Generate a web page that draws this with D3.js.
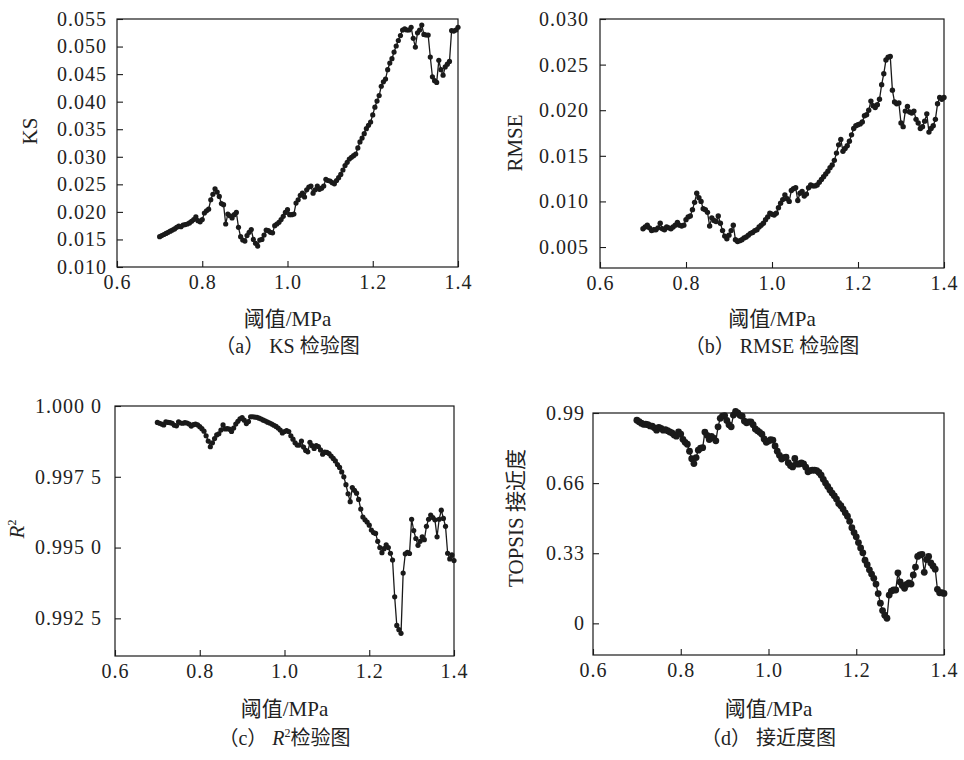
<!DOCTYPE html>
<html><head><meta charset="utf-8">
<script src="https://cdn.jsdelivr.net/npm/d3@7"></script>
<style>
body{margin:0;background:#fff;}
svg text{font-family:"Liberation Serif","Times New Roman",serif;fill:#222;}
</style></head>
<body>
<svg id="c" width="964" height="760"></svg>
<script>
// thresholds (MPa): 0.700 ... 1.400, step 0.005
const thresholds = d3.range(141).map(i => +(0.7 + i*0.005).toFixed(3));
const xTicks = [0.6, 0.8, 1.0, 1.2, 1.4];
const xTickLabels = ["0.6", "0.8", "1.0", "1.2", "1.4"];

const ksValues = [
0.0155,0.0157,0.0159,0.0161,0.0163,0.0165,0.0167,0.0169,0.0172,0.0174,
0.0173,0.0176,0.0177,0.0178,0.0180,0.0183,0.0186,0.0191,0.0184,0.0182,
0.0186,0.0198,0.0202,0.0205,0.0222,0.0232,0.0242,0.0236,0.0228,0.0215,
0.0213,0.0178,0.0196,0.0193,0.0189,0.0195,0.0199,0.0172,0.0155,0.0149,
0.0147,0.0157,0.0163,0.0168,0.0150,0.0143,0.0138,0.0149,0.0150,0.0158,
0.0167,0.0166,0.0163,0.0162,0.0175,0.0178,0.0181,0.0186,0.0192,0.0199,
0.0204,0.0195,0.0195,0.0196,0.0216,0.0222,0.0230,0.0234,0.0227,0.0240,
0.0245,0.0247,0.0234,0.0240,0.0247,0.0241,0.0243,0.0247,0.0259,0.0257,
0.0256,0.0253,0.0251,0.0257,0.0262,0.0268,0.0276,0.0284,0.0290,0.0296,
0.0299,0.0302,0.0305,0.0316,0.0327,0.0334,0.0342,0.0351,0.0357,0.0363,
0.0376,0.0390,0.0401,0.0411,0.0428,0.0436,0.0441,0.0458,0.0470,0.0478,
0.0490,0.0501,0.0511,0.0520,0.0530,0.0532,0.0530,0.0530,0.0535,0.0515,
0.0499,0.0525,0.0530,0.0539,0.0522,0.0521,0.0521,0.0481,0.0445,0.0438,
0.0435,0.0475,0.0458,0.0448,0.0463,0.0468,0.0473,0.0529,0.0528,0.0530,
0.0535];
const ksTicks = [0.010,0.015,0.020,0.025,0.030,0.035,0.040,0.045,0.050,0.055];
const ksTickLabels = ["0.010","0.015","0.020","0.025","0.030","0.035","0.040","0.045","0.050","0.055"];

const rmseValues = [
0.0070,0.0072,0.0074,0.0071,0.0068,0.0069,0.0069,0.0071,0.0076,0.0070,
0.0069,0.0072,0.0071,0.0070,0.0072,0.0074,0.0077,0.0074,0.0073,0.0074,
0.0080,0.0083,0.0084,0.0091,0.0099,0.0109,0.0104,0.0100,0.0092,0.0091,
0.0088,0.0073,0.0082,0.0079,0.0078,0.0084,0.0076,0.0068,0.0062,0.0059,
0.0063,0.0068,0.0074,0.0058,0.0056,0.0057,0.0058,0.0060,0.0061,0.0063,
0.0065,0.0066,0.0068,0.0069,0.0072,0.0074,0.0076,0.0080,0.0083,0.0087,
0.0086,0.0085,0.0087,0.0093,0.0098,0.0102,0.0107,0.0103,0.0100,0.0112,
0.0114,0.0115,0.0101,0.0109,0.0111,0.0106,0.0108,0.0115,0.0118,0.0117,
0.0117,0.0118,0.0121,0.0124,0.0127,0.0130,0.0133,0.0137,0.0140,0.0145,
0.0153,0.0162,0.0168,0.0155,0.0158,0.0161,0.0166,0.0173,0.0180,0.0183,
0.0184,0.0185,0.0187,0.0194,0.0195,0.0200,0.0210,0.0205,0.0203,0.0206,
0.0212,0.0228,0.0240,0.0255,0.0258,0.0259,0.0222,0.0209,0.0207,0.0208,
0.0186,0.0182,0.0199,0.0204,0.0198,0.0197,0.0199,0.0190,0.0186,0.0180,
0.0182,0.0188,0.0196,0.0176,0.0180,0.0183,0.0190,0.0207,0.0214,0.0212,
0.0214];
const rmseTicks = [0.005,0.010,0.015,0.020,0.025,0.030];
const rmseTickLabels = ["0.005","0.010","0.015","0.020","0.025","0.030"];

const r2Values = [
0.99942,0.99939,0.99936,0.99933,0.99944,0.99942,0.99941,0.99939,0.99932,0.99930,
0.99944,0.99940,0.99939,0.99941,0.99940,0.99936,0.99929,0.99934,0.99936,0.99933,
0.99927,0.99920,0.99911,0.99895,0.99876,0.99856,0.99870,0.99885,0.99898,0.99902,
0.99915,0.99933,0.99919,0.99920,0.99918,0.99910,0.99922,0.99936,0.99946,0.99955,
0.99959,0.99950,0.99938,0.99945,0.99962,0.99962,0.99961,0.99960,0.99957,0.99954,
0.99950,0.99947,0.99943,0.99940,0.99936,0.99932,0.99928,0.99922,0.99915,0.99905,
0.99910,0.99913,0.99910,0.99895,0.99883,0.99870,0.99862,0.99862,0.99876,0.99855,
0.99843,0.99838,0.99872,0.99860,0.99850,0.99860,0.99857,0.99845,0.99830,0.99837,
0.99836,0.99832,0.99823,0.99815,0.99806,0.99793,0.99783,0.99767,0.99750,0.99722,
0.99690,0.99662,0.99712,0.99702,0.99692,0.99670,0.99636,0.99608,0.99598,0.99590,
0.99579,0.99562,0.99553,0.99550,0.99522,0.99500,0.99482,0.99496,0.99510,0.99500,
0.99480,0.99456,0.99326,0.99225,0.99210,0.99197,0.99410,0.99478,0.99483,0.99479,
0.99600,0.99560,0.99532,0.99508,0.99522,0.99538,0.99528,0.99575,0.99600,0.99615,
0.99606,0.99598,0.99538,0.99600,0.99632,0.99603,0.99575,0.99480,0.99460,0.99474,
0.99454];
const r2Ticks = [0.9925,0.9950,0.9975,1.0000];
const r2TickLabels = ["0.992 5","0.995 0","0.997 5","1.000 0"];

const topsisValues = [
0.956,0.949,0.942,0.937,0.937,0.935,0.929,0.928,0.920,0.909,
0.922,0.918,0.909,0.912,0.907,0.901,0.896,0.887,0.881,0.901,
0.891,0.866,0.852,0.843,0.810,0.775,0.752,0.780,0.815,0.824,
0.827,0.900,0.885,0.865,0.880,0.872,0.859,0.925,0.965,0.975,
0.978,0.955,0.935,0.925,0.980,0.998,0.990,0.979,0.975,0.952,
0.944,0.948,0.948,0.935,0.915,0.907,0.899,0.890,0.868,0.852,
0.858,0.865,0.862,0.835,0.810,0.791,0.773,0.780,0.782,0.756,
0.743,0.736,0.776,0.750,0.750,0.755,0.750,0.735,0.713,0.719,
0.721,0.721,0.719,0.710,0.697,0.678,0.660,0.644,0.628,0.613,
0.600,0.585,0.564,0.554,0.538,0.520,0.504,0.480,0.450,0.427,
0.407,0.380,0.355,0.332,0.297,0.276,0.252,0.232,0.212,0.185,
0.140,0.095,0.060,0.038,0.024,0.133,0.152,0.157,0.157,0.238,
0.195,0.178,0.165,0.183,0.190,0.185,0.228,0.265,0.315,0.322,
0.325,0.240,0.300,0.315,0.284,0.270,0.255,0.160,0.144,0.144,
0.141];
const topsisTicks = [0, 0.33, 0.66, 0.99];
const topsisTickLabels = ["0", "0.33", "0.66", "0.99"];

const svg = d3.select("#c");
const ink = "#1a1a1a";
const serif = "'Liberation Serif','Times New Roman',serif";
const cjkFont = "'Noto Sans CJK SC',sans-serif";

function panel(o){
  const g = svg.append("g");
  const x = d3.scaleLinear().domain([0.6,1.4]).range([o.x0,o.x1]);
  const y = d3.scaleLinear().domain(o.yd).range([o.y1,o.y0]);
  g.append("rect").attr("x",o.x0).attr("y",o.y0).attr("width",o.x1-o.x0).attr("height",o.y1-o.y0)
    .attr("fill","none").attr("stroke",ink).attr("stroke-width",1.2);
  const ax = g.append("g").attr("transform",`translate(0,${o.y1})`)
    .call(d3.axisBottom(x).tickValues(xTicks).tickFormat((d,i)=>xTickLabels[i]).tickSize(-6).tickPadding(8));
  const ay = g.append("g").attr("transform",`translate(${o.x0},0)`)
    .call(d3.axisLeft(y).tickValues(o.ticks).tickFormat((d,i)=>o.labels[i]).tickSize(-6).tickPadding(o.pad));
  [ax,ay].forEach(a=>{
    a.attr("font-family",null).attr("font-size",null);
    a.select(".domain").remove();
    a.selectAll("line").attr("stroke",ink).attr("stroke-width",1.1);
    a.selectAll("text").style("font-size","20px").style("fill","#222")
      .style("font-family",serif).style("letter-spacing","1px");
  });
  const pts = thresholds.map((t,i)=>[t,o.vals[i]]);
  g.append("path").datum(pts).attr("fill","none").attr("stroke",ink).attr("stroke-width",1.3)
    .attr("d",d3.line().x(d=>x(d[0])).y(d=>y(d[1])));
  g.selectAll("circle").data(pts).join("circle")
    .attr("cx",d=>x(d[0])).attr("cy",d=>y(d[1])).attr("r",o.r).attr("fill",ink);
  const cx = (o.x0+o.x1)/2;
  g.append("text").attr("x",cx).attr("y",o.tY).attr("text-anchor","middle").style("font-size","21px")
    .html(cj("阈值")+"/MPa");
  g.append("text").attr("x",cx).attr("y",o.cY).attr("text-anchor","middle").style("font-size","20px")
    .html(o.caption);
  g.append("text").attr("transform",`translate(${o.lx},${o.ly}) rotate(-90)`).attr("text-anchor","middle")
    .style("font-size","21px").html(o.ylabel);
}

function cj(s){ return `<tspan style="font-family:${cjkFont}">${s}</tspan>`; }

panel({x0:117,x1:458,y0:19,y1:267,yd:[0.010,0.055],ticks:ksTicks,labels:ksTickLabels,pad:10,vals:ksValues,r:2.6,
  tY:326,cY:353,caption:cj("（")+"a"+cj("）")+" KS "+cj("检验图"),lx:37,ly:131,ylabel:"KS"});
panel({x0:600,x1:944,y0:19,y1:268,yd:[0.0027,0.030],ticks:rmseTicks,labels:rmseTickLabels,pad:11,vals:rmseValues,r:2.7,
  tY:326,cY:353,caption:cj("（")+"b"+cj("）")+" RMSE "+cj("检验图"),lx:522,ly:143,ylabel:"RMSE"});
panel({x0:115,x1:454,y0:406,y1:656,yd:[0.99117,1.0],ticks:r2Ticks,labels:r2TickLabels,pad:13,vals:r2Values,r:2.6,
  tY:716,cY:745,caption:cj("（")+"c"+cj("）")+' <tspan font-style="italic">R</tspan><tspan style="font-size:12px" dy="-8">2</tspan><tspan dy="8">'+cj("检验图")+'</tspan>',
  lx:24,ly:529,ylabel:'<tspan font-style="italic">R</tspan><tspan style="font-size:12px" dy="-8">2</tspan>'});
panel({x0:593,x1:944,y0:413,y1:655,yd:[-0.149,0.99],ticks:topsisTicks,labels:topsisTickLabels,pad:8,vals:topsisValues,r:3.4,
  tY:716,cY:745,caption:cj("（")+"d"+cj("）")+" "+cj("接近度图"),lx:523,ly:518,ylabel:"TOPSIS "+cj("接近度")});
</script>
</body></html>
